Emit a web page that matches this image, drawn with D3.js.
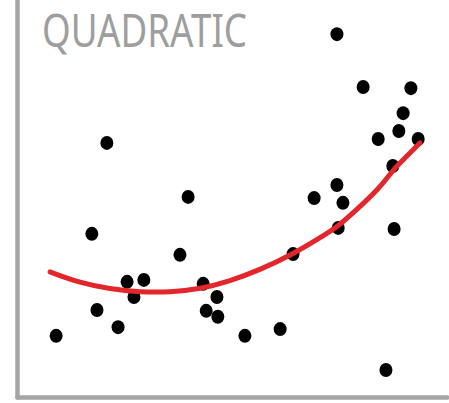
<!DOCTYPE html>
<html>
<head>
<meta charset="utf-8">
<script src="https://cdn.jsdelivr.net/npm/d3@7"></script>
<style>
  body { margin: 0; background: #fff; }
  svg { display: block; }
</style>
</head>
<body>
<div id="chart"></div>
<script>
'use strict';

// scatter points (x 0..10, y 0..10)
const pointX = [0.91, 1.74, 1.86, 2.09, 2.35, 2.56, 2.72, 2.95, 3.79, 3.98,
                4.33, 4.40, 4.65, 4.67, 5.30, 6.12, 6.42, 6.91, 7.44, 7.47,
                7.58, 7.44, 8.05, 8.40, 8.58, 8.74, 8.77, 8.88, 8.98, 9.16, 9.33];
const pointY = [1.54, 4.11, 2.19, 6.40, 1.76, 2.90, 2.52, 2.95, 3.58, 5.04,
                2.85, 2.17, 2.52, 2.02, 1.54, 1.71, 3.60, 5.01, 5.34, 4.26,
                4.89, 9.14, 7.81, 6.50, 0.68, 5.82, 4.23, 6.70, 7.15, 7.78, 6.50];

// fitted curve as it is drawn
const fitX = [0.77, 1.47, 2.16, 2.86, 3.56, 4.26, 4.95, 5.65, 6.42, 7.05, 7.44, 7.74, 8.44, 8.74, 9.02, 9.37];
const fitY = [3.15, 2.87, 2.72, 2.64, 2.64, 2.72, 2.92, 3.20, 3.60, 4.01, 4.28, 4.56, 5.26, 5.72, 6.02, 6.40];

const title = 'QUADRATIC';

const width = 449, height = 403;
const margin = {top: 0, right: 2, bottom: 6, left: 17};

const svg = d3.select('#chart').append('svg')
    .attr('width', width)
    .attr('height', height);

const x = d3.scaleLinear().domain([0, 10]).range([margin.left, width - margin.right]);
const y = d3.scaleLinear().domain([0, 10]).range([height - margin.bottom, margin.top]);

// axes, no ticks
const xAxis = d3.axisBottom(x).tickValues([]).tickSizeOuter(0);
const yAxis = d3.axisLeft(y).tickValues([]).tickSizeOuter(0);

svg.append('g')
    .attr('class', 'x axis')
    .attr('transform', 'translate(0,' + y(0) + ')')
    .call(xAxis)
    .select('.domain')
        .attr('stroke', '#a5a5a5')
        .attr('stroke-width', 4.5)
        .attr('stroke-linecap', 'round');

svg.append('g')
    .attr('class', 'y axis')
    .attr('transform', 'translate(' + x(0) + ',0)')
    .call(yAxis)
    .select('.domain')
        .attr('stroke', '#a5a5a5')
        .attr('stroke-width', 4.5)
        .attr('stroke-linecap', 'round');

svg.append('text')
    .attr('x', 42)
    .attr('y', 47)
    .attr('font-family', 'Noto Sans')
    .attr('font-size', 45)
    .attr('textLength', 205)
    .attr('lengthAdjust', 'spacingAndGlyphs')
    .attr('fill', '#9e9e9e')
    .text(title);

const points = pointX.map((v, i) => ({x: v, y: pointY[i]}));

svg.append('g')
    .selectAll('ellipse')
    .data(points)
    .enter()
    .append('ellipse')
        .attr('cx', d => x(d.x))
        .attr('cy', d => y(d.y))
        .attr('rx', 6.5)
        .attr('ry', 7)
        .attr('fill', '#000');

const fit = fitX.map((v, i) => ({x: v, y: fitY[i]}));

const lineDrawer = d3.line()
    .curve(d3.curveBasis)
    .x(d => x(d.x))
    .y(d => y(d.y));

svg.append('path')
    .attr('d', lineDrawer(fit))
    .attr('stroke', '#e3262b')
    .attr('stroke-width', 5)
    .attr('stroke-linecap', 'round')
    .attr('fill', 'none');
</script>
</body>
</html>
